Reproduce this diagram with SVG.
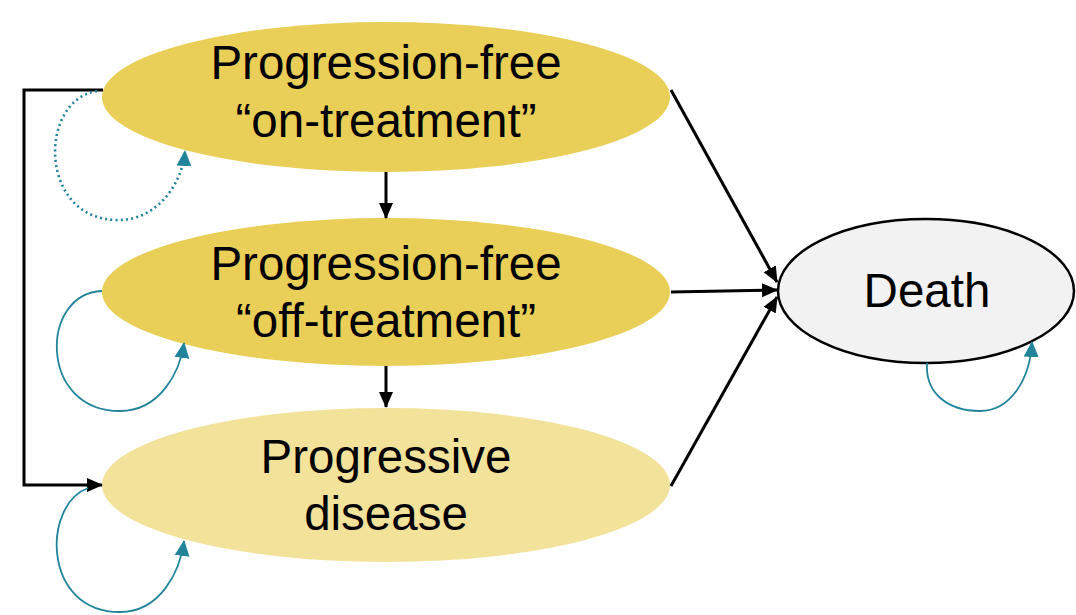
<svg xmlns="http://www.w3.org/2000/svg" width="1076" height="615" viewBox="0 0 1076 615">
<style>
.lbl{font-family:"Liberation Sans",Arial,sans-serif;font-size:47.5px;fill:#000;text-anchor:middle}
.blk{fill:none;stroke:#000;stroke-width:3}
.teal{fill:none;stroke:#21849b;stroke-width:1.8}
.dot{fill:none;stroke:#21849b;stroke-width:2.6;stroke-dasharray:2 3.2}
</style>
<defs>
<marker id="ab" markerUnits="userSpaceOnUse" markerWidth="16" markerHeight="16" viewBox="0 0 16 16" refX="15" refY="8" orient="auto">
<path d="M0,1 L16,8 L0,15 Z" fill="#000"/>
</marker>
<marker id="at" markerUnits="userSpaceOnUse" markerWidth="16" markerHeight="16" viewBox="0 0 16 16" refX="15" refY="8" orient="auto">
<path d="M0,0.5 L16,8 L0,15.5 Z" fill="#21849b"/>
</marker>
</defs>
<g id="node-pf-on">
<ellipse cx="386" cy="97" rx="284" ry="75" fill="#e9cf57"/>
<text class="lbl" x="386" y="79">Progression-free</text>
<text class="lbl" x="386" y="137">“on-treatment”</text>
</g>
<g id="node-pf-off">
<ellipse cx="386" cy="292" rx="284" ry="74" fill="#e9cf57"/>
<text class="lbl" x="386" y="280">Progression-free</text>
<text class="lbl" x="386" y="337">“off-treatment”</text>
</g>
<g id="node-pd">
<ellipse cx="386" cy="485" rx="284" ry="77" fill="#f2e29a"/>
<text class="lbl" x="386" y="473">Progressive</text>
<text class="lbl" x="386" y="530">disease</text>
</g>
<g id="node-death">
<ellipse cx="926" cy="291" rx="148" ry="72" fill="#f2f2f2" stroke="#000" stroke-width="2.5"/>
<text class="lbl" x="927" y="307">Death</text>
</g>
<g id="connectors">
<path class="blk" d="M103 90 H24 V485 H102" marker-end="url(#ab)"/>
<path class="blk" d="M386 172 V218" marker-end="url(#ab)"/>
<path class="blk" d="M386 366 V407" marker-end="url(#ab)"/>
<path class="blk" d="M671 90 L777 282" marker-end="url(#ab)"/>
<path class="blk" d="M671 292 L777 290" marker-end="url(#ab)"/>
<path class="blk" d="M671 486 L777 297" marker-end="url(#ab)"/>
<path class="dot" d="M97 91 C38 100 38 220 118 220 C160 220 183 180 185 151" marker-end="url(#at)"/>
<path class="teal" d="M102 291 C40 293 38 411 120 411 C160 411 180 372 184 343" marker-end="url(#at)"/>
<path class="teal" d="M88 488 C42 505 42 612 120 612 C160 612 180 572 184 541" marker-end="url(#at)"/>
<path class="teal" d="M927 363 C925 395 950 411 980 411 C1010 411 1030 380 1032 342" marker-end="url(#at)"/>
</g>
</svg>
